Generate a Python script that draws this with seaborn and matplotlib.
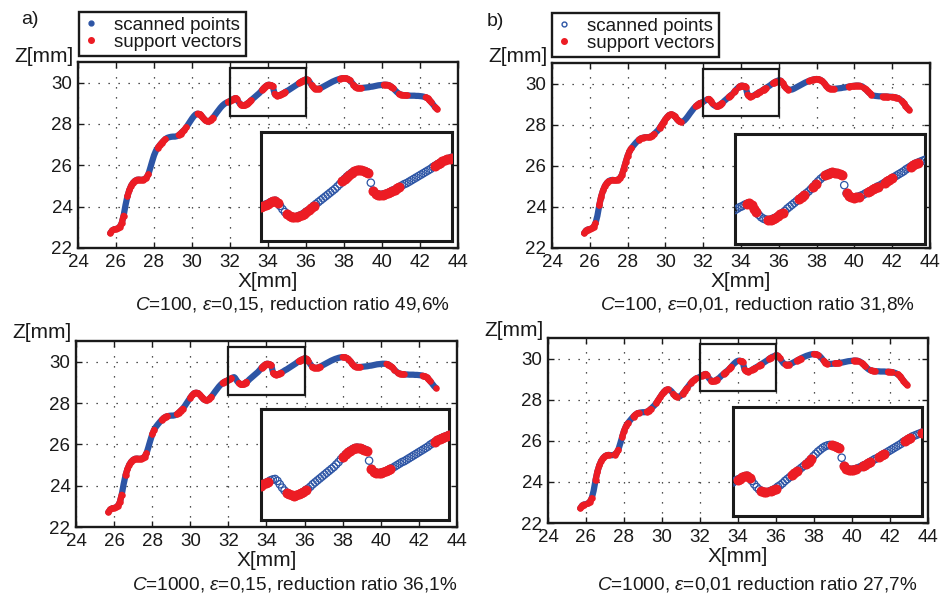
import numpy as np
import matplotlib
matplotlib.use("Agg")
import matplotlib.pyplot as plt
from matplotlib.lines import Line2D
from matplotlib.patches import Rectangle
import seaborn as sns

# scanned profile, x / z in mm
x_left = [25.7, 25.8, 25.9, 26.0, 26.1, 26.2, 26.3, 26.4, 26.5, 26.6,
          26.7, 26.8, 26.9, 27.0, 27.1, 27.2, 27.3, 27.4, 27.5, 27.6,
          27.7, 27.8, 27.9, 28.0, 28.1, 28.2, 28.3, 28.4, 28.5, 28.6,
          28.7, 28.8, 28.9, 29.0, 29.1, 29.2, 29.3, 29.4, 29.5, 29.6,
          29.7, 29.8, 29.9, 30.0, 30.1, 30.2, 30.3, 30.4, 30.5, 30.6,
          30.7, 30.8, 30.9, 31.0, 31.1, 31.2, 31.3, 31.4, 31.5, 31.6,
          31.7, 31.8, 31.9, 32.0]
z_left = [22.72, 22.85, 22.90, 22.92, 22.95, 23.02, 23.20, 23.56, 24.07, 24.50,
          24.80, 25.02, 25.16, 25.25, 25.30, 25.31, 25.30, 25.30, 25.33, 25.40,
          25.56, 25.86, 26.18, 26.48, 26.70, 26.85, 26.97, 27.08, 27.18, 27.27,
          27.33, 27.36, 27.38, 27.39, 27.39, 27.41, 27.46, 27.54, 27.63, 27.72,
          27.84, 27.98, 28.12, 28.26, 28.38, 28.47, 28.50, 28.48, 28.40, 28.28,
          28.18, 28.13, 28.14, 28.20, 28.30, 28.42, 28.55, 28.67, 28.79, 28.89,
          28.97, 29.03, 29.07, 29.11]

x_mid = [32.05, 32.10, 32.15, 32.20, 32.25, 32.30, 32.35, 32.40, 32.45, 32.50,
         32.55, 32.60, 32.65, 32.70, 32.75, 32.80, 32.85, 32.90, 32.95, 33.00,
         33.05, 33.10, 33.15, 33.20, 33.25, 33.30, 33.35, 33.40, 33.45, 33.50,
         33.55, 33.60, 33.65, 33.70, 33.75, 33.80, 33.85, 33.90, 33.95, 34.00,
         34.05, 34.10, 34.15, 34.20, 34.25, 34.30, 34.35, 34.40, 34.45, 34.50,
         34.55, 34.60, 34.65, 34.70, 34.75, 34.80, 34.85, 34.90, 34.95, 35.00,
         35.05, 35.10, 35.15, 35.20, 35.25, 35.30, 35.35, 35.40, 35.45, 35.50,
         35.55, 35.60, 35.65, 35.70, 35.75, 35.80, 35.85, 35.90, 35.95, 36.00]
z_mid = [29.14, 29.17, 29.19, 29.22, 29.24, 29.25, 29.21, 29.14, 29.07, 29.01,
         28.96, 28.93, 28.91, 28.90, 28.91, 28.93, 28.95, 28.98, 29.02, 29.05,
         29.09, 29.14, 29.18, 29.22, 29.26, 29.30, 29.34, 29.38, 29.42, 29.46,
         29.50, 29.55, 29.60, 29.66, 29.71, 29.76, 29.80, 29.84, 29.87, 29.89,
         29.90, 29.89, 29.88, 29.86, 29.84, 29.63, 29.46, 29.40, 29.38, 29.37,
         29.38, 29.39, 29.41, 29.43, 29.46, 29.48, 29.51, 29.54, 29.57, 29.60,
         29.62, 29.65, 29.68, 29.71, 29.74, 29.77, 29.80, 29.83, 29.86, 29.89,
         29.92, 29.96, 29.99, 30.02, 30.05, 30.08, 30.10, 30.12, 30.14, 30.16]

x_right = [36.1, 36.2, 36.3, 36.4, 36.5, 36.6, 36.7, 36.8, 36.9, 37.0,
           37.1, 37.2, 37.3, 37.4, 37.5, 37.6, 37.7, 37.8, 37.9, 38.0,
           38.1, 38.2, 38.3, 38.4, 38.5, 38.6, 38.7, 38.8, 38.9, 39.0,
           39.1, 39.2, 39.3, 39.4, 39.5, 39.6, 39.7, 39.8, 39.9, 40.0,
           40.1, 40.2, 40.3, 40.4, 40.5, 40.6, 40.7, 40.8, 40.9, 41.0,
           41.1, 41.2, 41.3, 41.4, 41.5, 41.6, 41.7, 41.8, 41.9, 42.0,
           42.1, 42.2, 42.3, 42.4, 42.5, 42.6, 42.7, 42.8, 42.9]
z_right = [30.14, 30.02, 29.88, 29.76, 29.71, 29.70, 29.71, 29.75, 29.80, 29.85,
           29.90, 29.95, 30.00, 30.05, 30.09, 30.13, 30.16, 30.19, 30.21, 30.22,
           30.21, 30.18, 30.12, 30.02, 29.90, 29.80, 29.75, 29.74, 29.74, 29.75,
           29.76, 29.77, 29.78, 29.80, 29.81, 29.83, 29.85, 29.87, 29.88, 29.89,
           29.90, 29.90, 29.89, 29.86, 29.80, 29.72, 29.62, 29.53, 29.46, 29.42,
           29.40, 29.39, 29.38, 29.38, 29.37, 29.37, 29.37, 29.36, 29.36, 29.35,
           29.34, 29.32, 29.29, 29.24, 29.16, 29.05, 28.93, 28.81, 28.72]

# support vector runs (x from..to, mm) for each case
sv_a = [(25.6, 26.42), (26.58, 27.78), (28.14, 28.67), (29.28, 29.72), (30.25, 31.12),
        (31.82, 32.35), (32.51, 33.13), (33.69, 34.27), (34.34, 34.92), (35.63, 36.12),
        (36.25, 36.75), (37.8, 38.3), (38.45, 38.95), (40.1, 40.6), (40.85, 41.3),
        (42.3, 42.6), (42.8, 43.0)]
sv_b = [(25.6, 26.0), (26.1, 26.35), (26.5, 26.6), (26.7, 27.0), (27.2, 27.5),
        (27.6, 28.25), (28.6, 28.9), (29.1, 29.4), (29.7, 30.1), (30.2, 30.8),
        (31.6, 31.95), (32.23, 32.48), (32.69, 33.0), (33.35, 33.46), (33.63, 33.73),
        (33.9, 34.27), (34.34, 34.63), (34.8, 35.0), (35.15, 35.3), (35.67, 35.85),
        (36.05, 36.5), (37.6, 38.3), (38.4, 38.9), (39.7, 40.3), (40.45, 40.95),
        (41.5, 41.8), (42.0, 42.3), (42.5, 42.9)]
sv_c = [(25.6, 26.42), (26.6, 27.78), (28.0, 28.15), (28.45, 28.88), (29.25, 29.6),
        (29.95, 31.1), (31.7, 32.19), (32.55, 32.98), (33.74, 34.27), (34.34, 34.79),
        (35.66, 36.25), (36.35, 36.8), (38.0, 38.9), (40.3, 40.7), (40.9, 41.25),
        (42.2, 42.6), (42.85, 43.0)]
sv_d = [(25.6, 25.9), (26.1, 26.35), (26.5, 26.7), (26.8, 27.2), (27.5, 27.7),
        (27.85, 28.2), (28.5, 28.85), (29.2, 29.4), (29.7, 30.3), (30.6, 30.8),
        (31.1, 31.3), (31.5, 31.8), (32.08, 32.35), (32.57, 32.7), (32.78, 32.93),
        (33.25, 33.35), (33.55, 33.65), (34.1, 34.27), (34.34, 34.6), (34.75, 34.9),
        (35.1, 35.2), (35.65, 35.75), (36.0, 36.2), (36.5, 36.7), (37.1, 37.3),
        (37.95, 38.2), (38.5, 38.75), (39.05, 39.3), (40.1, 40.35), (40.5, 40.7),
        (41.0, 41.2), (41.85, 42.1), (42.35, 42.6), (42.7, 43.0)]

captions = [r"$C$=100, $\varepsilon$=0,15, reduction ratio 49,6%",
            r"$C$=100, $\varepsilon$=0,01, reduction ratio 31,8%",
            r"$C$=1000, $\varepsilon$=0,15, reduction ratio 36,1%",
            r"$C$=1000, $\varepsilon$=0,01 reduction ratio 27,7%"]
letters = ["a)", "b)", "", ""]
legend_labels = ["scanned points", "support vectors"]

zoom_x = (32, 36)
zoom_z = (28.4, 30.7)

BLUE = "#2d55a5"
RED = "#ec1c24"
W, H = 941, 599

sns.set_theme(style="white", rc={"axes.edgecolor": "k", "xtick.color": "k",
                                 "ytick.color": "k", "text.color": "k",
                                 "axes.labelcolor": "k"})
plt.rcParams["font.family"] = ["Liberation Sans", "DejaVu Sans"]
plt.rcParams["mathtext.fontset"] = "custom"
plt.rcParams["mathtext.rm"] = "Liberation Sans"
plt.rcParams["mathtext.it"] = "Liberation Sans:italic"

x = np.array(x_left + x_mid + x_right)
z = np.array(z_left + z_mid + z_right)


def px(l, t, r, b):
    return [l / W, 1 - b / H, (r - l) / W, (b - t) / H]


# layout in pixels: main axes, inset, caption centre, letter, legend corner, Z label offset
layout = [
    dict(main=(78, 62, 458, 248), ins=(261, 132, 452, 241), cap=(292, 305),
         let=(30, 19), leg=(79, 12), zl=5, open_leg=False),
    dict(main=(552, 63, 930, 248), ins=(735, 134, 925, 244), cap=(757, 305),
         let=(495, 21), leg=(552, 13), zl=6, open_leg=True),
    dict(main=(76, 341, 457, 527), ins=(261, 409, 449, 520), cap=(295, 585),
         let=None, leg=None, zl=9, open_leg=False),
    dict(main=(548, 338, 928, 523), ins=(733, 407, 922, 516), cap=(757, 584),
         let=None, leg=None, zl=7, open_leg=False),
]
sv_all = [sv_a, sv_b, sv_c, sv_d]

fig = plt.figure(figsize=(W / 100, H / 100), dpi=100)

for i, lay in enumerate(layout):
    sv = sv_all[i]
    is_sv = np.zeros(len(x), bool)
    for s, e in sv:
        is_sv |= (x >= s - 1e-6) & (x <= e + 1e-6)

    ax = fig.add_axes(px(*lay["main"]))
    sns.lineplot(x=x, y=z, color=BLUE, lw=4.5, solid_capstyle="round",
                 estimator=None, sort=False, ax=ax, zorder=3)
    ax.plot(x, np.where(is_sv, z, np.nan), color=RED, lw=4.5,
            solid_capstyle="round", zorder=4)
    sns.scatterplot(x=x[is_sv], y=z[is_sv], color=RED, s=22, linewidth=0,
                    ax=ax, zorder=5)
    ax.add_patch(Rectangle((zoom_x[0], zoom_z[0]), zoom_x[1] - zoom_x[0],
                           zoom_z[1] - zoom_z[0], fill=False, ec="k", lw=1.6, zorder=6))
    ax.set_xlim(24, 44)
    ax.set_ylim(22, 31)
    ax.set_xticks(range(24, 45, 2))
    ax.set_yticks(range(22, 31, 2))
    ax.grid(True, color="k", lw=0.9, linestyle=(0, (1, 7)))
    ax.tick_params(direction="in", length=4, width=1, top=True, right=True,
                   bottom=True, left=True, labelsize=13.5, pad=4)
    for sp in ax.spines.values():
        sp.set_linewidth(1.7)
        sp.set_color("k")
    ax.set_xlabel("X[mm]", fontsize=15, labelpad=1)
    ax.set_ylabel("")
    hpx = lay["main"][3] - lay["main"][1]
    wpx = lay["main"][2] - lay["main"][0]
    ax.text(-4 / wpx, 1 + lay["zl"] / hpx, "Z[mm]", transform=ax.transAxes,
            ha="right", va="center", fontsize=15)
    fig.text(lay["cap"][0] / W, 1 - lay["cap"][1] / H, captions[i],
             ha="center", va="center", fontsize=13.7)
    if lay["let"]:
        fig.text(lay["let"][0] / W, 1 - lay["let"][1] / H, letters[i],
                 ha="center", va="center", fontsize=14)
    if lay["leg"]:
        h_blue = Line2D([], [], ls="none", marker="o", ms=3.5, color=BLUE,
                        mfc="none" if lay["open_leg"] else BLUE, mew=1)
        h_red = Line2D([], [], ls="none", marker="o", ms=4, color=RED)
        leg = ax.legend([h_blue, h_red], legend_labels, loc="upper left",
                        bbox_to_anchor=(lay["leg"][0] / W, 1 - lay["leg"][1] / H),
                        bbox_transform=fig.transFigure, fontsize=13.5, frameon=True,
                        fancybox=False, edgecolor="k", framealpha=1,
                        borderpad=0.25, handlelength=0.8, handletextpad=0.8,
                        labelspacing=0.0, borderaxespad=0)
        leg.get_frame().set_linewidth(1.7)

    # zoomed inset
    iax = fig.add_axes(px(*lay["ins"]))
    iax.set_facecolor("white")
    inz = (x >= zoom_x[0] - 0.06) & (x <= zoom_x[1] + 0.06)
    iax.scatter(x[inz], z[inz], s=28, facecolors="none", edgecolors=BLUE,
                linewidths=0.9, zorder=3)
    red_in = inz & is_sv
    sns.scatterplot(x=x[red_in], y=z[red_in], color=RED, s=52, linewidth=0,
                    ax=iax, zorder=4)
    iax.set_xlim(*zoom_x)
    iax.set_ylim(*zoom_z)
    iax.set_xticks([])
    iax.set_yticks([])
    iax.set_xlabel("")
    iax.set_ylabel("")
    for sp in iax.spines.values():
        sp.set_linewidth(2.2)
        sp.set_color("k")

fig.savefig("out.png", dpi=100)
